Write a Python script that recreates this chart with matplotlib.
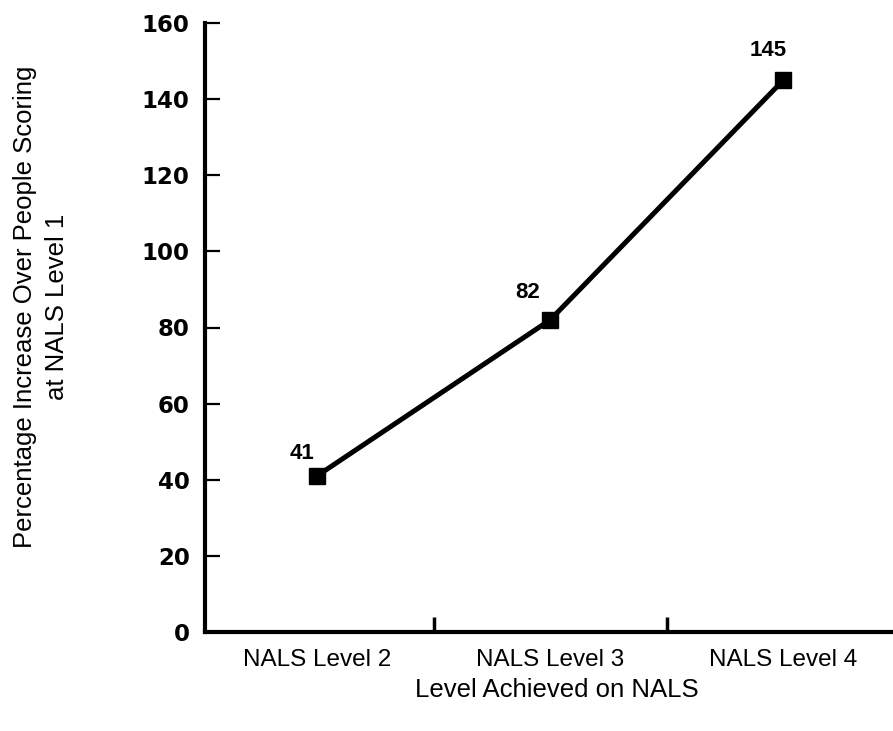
import matplotlib
matplotlib.use("Agg")
import matplotlib.pyplot as plt
from matplotlib.ticker import FixedLocator

categories = ["NALS Level 2", "NALS Level 3", "NALS Level 4"]
values = [41, 82, 145]
y_ticks = [0, 20, 40, 60, 80, 100, 120, 140, 160]

W, H = 893, 731
fig = plt.figure(figsize=(W / 100, H / 100), dpi=100)
ax = fig.add_axes([205 / W, 1 - 632 / H, 1 - 205 / W, (632 - 23) / H])

x = list(range(len(categories)))
ax.plot(x, values, color="black", lw=3.6, marker="s", markersize=11.5,
        solid_capstyle="butt", zorder=3, clip_on=False)

offsets = [(-11, 16), (-16, 20), (-11, 21)]
for xi, v, off in zip(x, values, offsets):
    ax.annotate(str(v), (xi, v), xytext=off, textcoords="offset points",
                ha="center", va="center", fontsize=16, fontweight="bold",
                family="Liberation Sans")

ax.set_xlim(-0.48, 2.47)
ax.set_ylim(0, 160)
ax.set_yticks(y_ticks)
ax.set_yticklabels([str(t) for t in y_ticks], fontsize=16.5, fontweight="bold",
                   family="DejaVu Sans")
ax.set_xticks(x)
ax.set_xticklabels(categories, fontsize=17.5, family="Liberation Sans")
ax.xaxis.set_minor_locator(FixedLocator([0.5, 1.5]))

for s in ["top", "right"]:
    ax.spines[s].set_visible(False)
for s in ["left", "bottom"]:
    ax.spines[s].set_linewidth(3)
ax.tick_params(axis="y", direction="in", length=11, width=1.6, pad=11)
ax.tick_params(axis="x", which="major", length=0, pad=12)
ax.tick_params(axis="x", which="minor", direction="in", length=11, width=2.5)

fig.text(41 / W, 1 - 307 / H,
         "Percentage Increase Over People Scoring\nat NALS Level 1",
         rotation=90, ha="center", va="center", multialignment="center",
         fontsize=18.5, family="Liberation Sans", linespacing=1.45)
fig.text(557 / W, 1 - 690 / H, "Level Achieved on NALS", ha="center",
         va="center", fontsize=18.5, family="Liberation Sans")

fig.savefig("out.png", dpi=100)
